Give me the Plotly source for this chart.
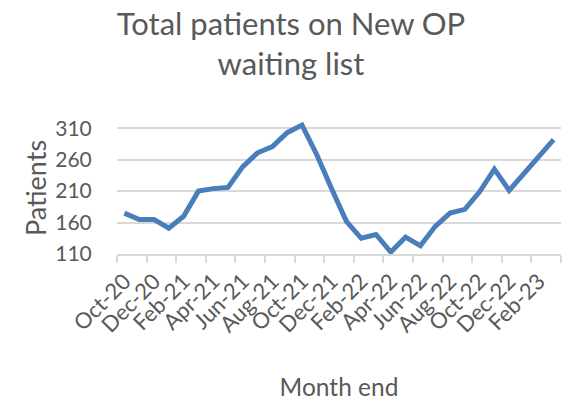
import plotly.graph_objects as go

months = ["Oct-20", "Nov-20", "Dec-20", "Jan-21", "Feb-21", "Mar-21", "Apr-21", "May-21",
          "Jun-21", "Jul-21", "Aug-21", "Sep-21", "Oct-21", "Nov-21", "Dec-21", "Jan-22",
          "Feb-22", "Mar-22", "Apr-22", "May-22", "Jun-22", "Jul-22", "Aug-22", "Sep-22",
          "Oct-22", "Nov-22", "Dec-22", "Jan-23", "Feb-23", "Mar-23"]
patients = [175, 165, 165, 151, 170, 210, 214, 216, 249, 271, 281, 303, 315, 268, 214,
            162, 135, 141, 113, 137, 123, 154, 175, 181, 209, 245, 211, 239, 265, 292]
y_ticks = [110, 160, 210, 260, 310]

idx = list(range(len(months)))
label_pos = idx[::2]
label_text = months[::2]
boundaries = [i - 0.5 for i in idx[::2]] + [len(months) - 0.5]

FONT = "Lato"
GREY = "#595959"

fig = go.Figure()
fig.add_trace(go.Scatter(
    x=idx, y=patients, mode="lines",
    line=dict(color="#4A7EBB", width=5, shape="linear"),
    hoverinfo="skip", showlegend=False,
))

fig.update_layout(
    width=568, height=401,
    paper_bgcolor="white", plot_bgcolor="white",
    margin=dict(l=117, r=7, t=122, b=147, autoexpand=False),
    font=dict(family=FONT, color=GREY),
    title=dict(
        text="Total patients on New OP<br>waiting list",
        x=291 / 568, xref="container", xanchor="center",
        y=0.913, yref="container", yanchor="top",
        font=dict(family=FONT, size=31, color=GREY),
    ),
    xaxis=dict(
        range=[-0.5, len(months) - 0.5],
        tickmode="array", tickvals=label_pos, ticktext=label_text,
        tickangle=-45, ticks="",
        ticklabelstandoff=4,
        showgrid=False, zeroline=False,
        showline=True, linecolor="#D9D9D9", linewidth=1.5,
        tickfont=dict(family=FONT, size=22, color=GREY),
        minor=dict(tickmode="array", tickvals=boundaries, ticks="outside",
                   ticklen=7, tickwidth=1.5, tickcolor="#D9D9D9", showgrid=False),
        title=dict(text="Month end", standoff=43,
                   font=dict(family=FONT, size=24.5, color=GREY)),
        fixedrange=True,
    ),
    yaxis=dict(
        range=[110, 320],
        tickmode="array", tickvals=y_ticks,
        showgrid=True, gridcolor="#D9D9D9", gridwidth=1.5,
        zeroline=False, showline=False,
        ticks="outside", ticklen=20, tickcolor="rgba(0,0,0,0)",
        tickfont=dict(family=FONT, size=21, color=GREY),
        title=dict(text="Patients", standoff=0,
                   font=dict(family=FONT, size=27, color=GREY)),
        fixedrange=True,
    ),
)

fig.write_html("out.html", config={"displayModeBar": False},
               post_script="document.body.style.margin='0';")
